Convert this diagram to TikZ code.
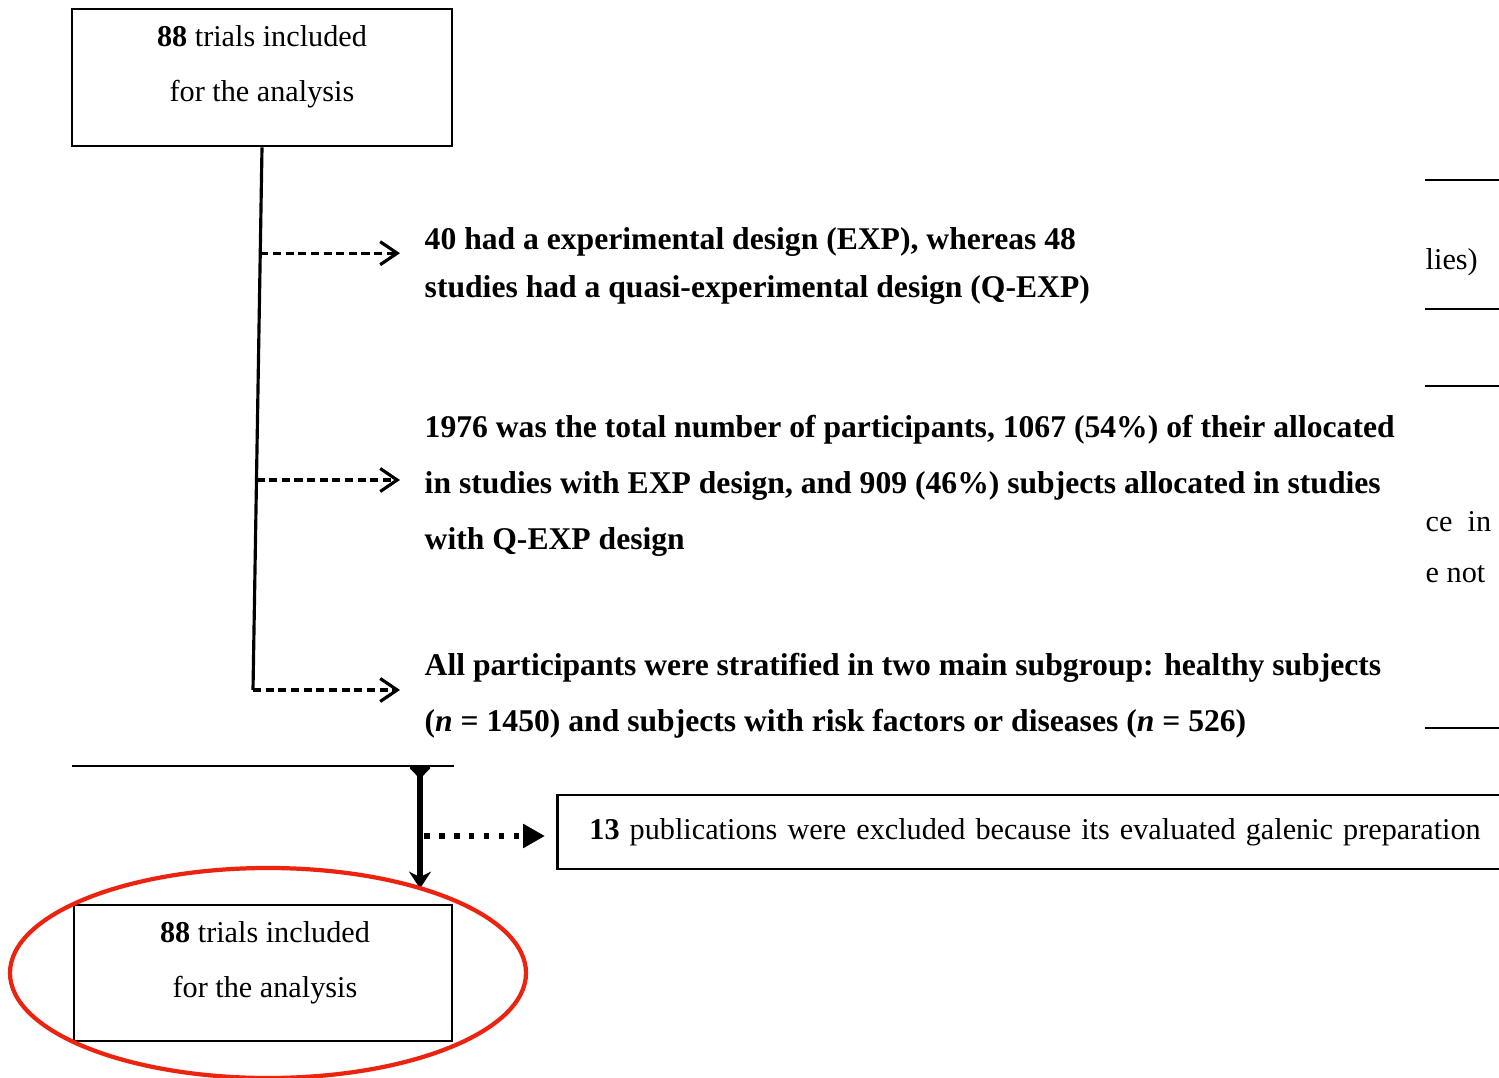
\documentclass[tikz,border=0pt]{standalone}
\usepackage{fontspec}
\setmainfont{Liberation Serif}
\usetikzlibrary{arrows.meta, positioning, calc}

\definecolor{ringred}{RGB}{235,35,15}

\begin{document}
\begin{tikzpicture}[
  every node/.style={font=\fontsize{8.6}{16}\selectfont},
  trialbox/.style={draw, line width=0.8pt, minimum width=3.8cm, minimum height=1.37cm, inner sep=0pt},
  boxtxt/.style={align=center, inner sep=0pt, font=\fontsize{8.6}{15.6}\selectfont},
  note/.style={anchor=west, align=left, inner sep=0pt, font=\bfseries\fontsize{9}{16}\selectfont},
  branch/.style={line width=0.9pt, dash pattern=on 2.3pt off 1.3pt, -{Straight Barb[length=1.7mm, width=2.3mm, line width=0.9pt]}},
  frag/.style={anchor=west, inner sep=0pt}
]
  \useasboundingbox (0,0) rectangle (14.99,-10.78);
  \clip (0,0) rectangle (14.99,-10.78);

  % upper box and its trunk
  \node[trialbox] (topbox) at (2.62,-0.775) {};
  \node[boxtxt] (toptxt) at (2.62,-0.665) {\textbf{88} trials included\\ for the analysis};

  \coordinate (trunktop) at (topbox.south);
  \coordinate (trunkbot) at (2.53,-6.90);
  \draw[line width=0.9pt] (trunktop) -- (trunkbot);
  \coordinate (br1) at ($(trunktop)!0.195!(trunkbot)$);
  \coordinate (br2) at ($(trunktop)!0.613!(trunkbot)$);

  \node[note] (design) at (4.24,-2.66) {40 had a experimental design (EXP), whereas 48\\[-2.6pt] studies had a quasi-experimental design (Q-EXP)};
  \node[note] (partic) at (4.24,-4.86) {1976 was the total number of participants, 1067 (54\%) of their allocated\\ in studies with EXP design, and 909 (46\%) subjects allocated in studies\\ with Q-EXP design};
  \node[note] (strata) at (4.24,-6.96) {All participants were stratified in two main subgroup: healthy subjects\\ (\textit{n} = 1450) and subjects with risk factors or diseases (\textit{n} = 526)};

  \draw[branch] (br1) -- ($(br1 -| design.west)+(-0.24,0)$);
  \draw[branch] (br2) -- ($(br2 -| design.west)+(-0.24,0)$);
  \draw[branch] (trunkbot) -- ($(trunkbot -| design.west)+(-0.24,0)$);

  % lower part
  \coordinate (rulel) at (0.72,-7.66);
  \coordinate (ruler) at (4.54,-7.66);
  \draw[line width=0.8pt] (rulel) -- (ruler);
  \coordinate (split) at (4.20,-7.66);

  \node[trialbox, minimum width=3.78cm, minimum height=1.36cm] (botbox) at (2.63,-9.73) {};
  \node[boxtxt] (bottxt) at (2.65,-9.625) {\textbf{88} trials included\\ for the analysis};

  \node[draw, line width=0.8pt, anchor=west, minimum height=0.74cm, text width=9.6cm, inner xsep=0.32cm, align=left] (excl) at (5.56,-8.32)
    {\mbox{\textbf{13} publications were excluded because its evaluated galenic preparation}};

  \draw[line width=1.5pt, {Triangle[reversed, round, length=1.3mm, width=2.4mm]}-{Stealth[length=1.7mm, width=2.2mm]}, shorten >=0.15cm]
    (split) -- (split |- botbox.north);
  \coordinate (dotstart) at (4.24,-8.36);
  \draw[line width=1.6pt, dash pattern=on 1.6pt off 2.65pt, -{Triangle[length=2.2mm, width=2.3mm]}, shorten >=0.11cm]
    (dotstart) -- (dotstart -| excl.west);

  \draw[ringred, line width=1.2pt] (2.68,-9.73) ellipse [x radius=2.58cm, y radius=1.05cm];

  % cut-off part at the right edge
  \foreach \y in {1.80, 3.09, 3.86, 7.28}
    \draw[line width=0.6pt] (14.25,-\y) -- (15.2,-\y);
  \node[frag] (fraga) at (14.25,-2.62) {lies)};
  \node[frag] (fragb) at (14.25,-5.22) {ce \ in};
  \node[frag] (fragc) at (14.25,-5.74) {e not};
\end{tikzpicture}
\end{document}
